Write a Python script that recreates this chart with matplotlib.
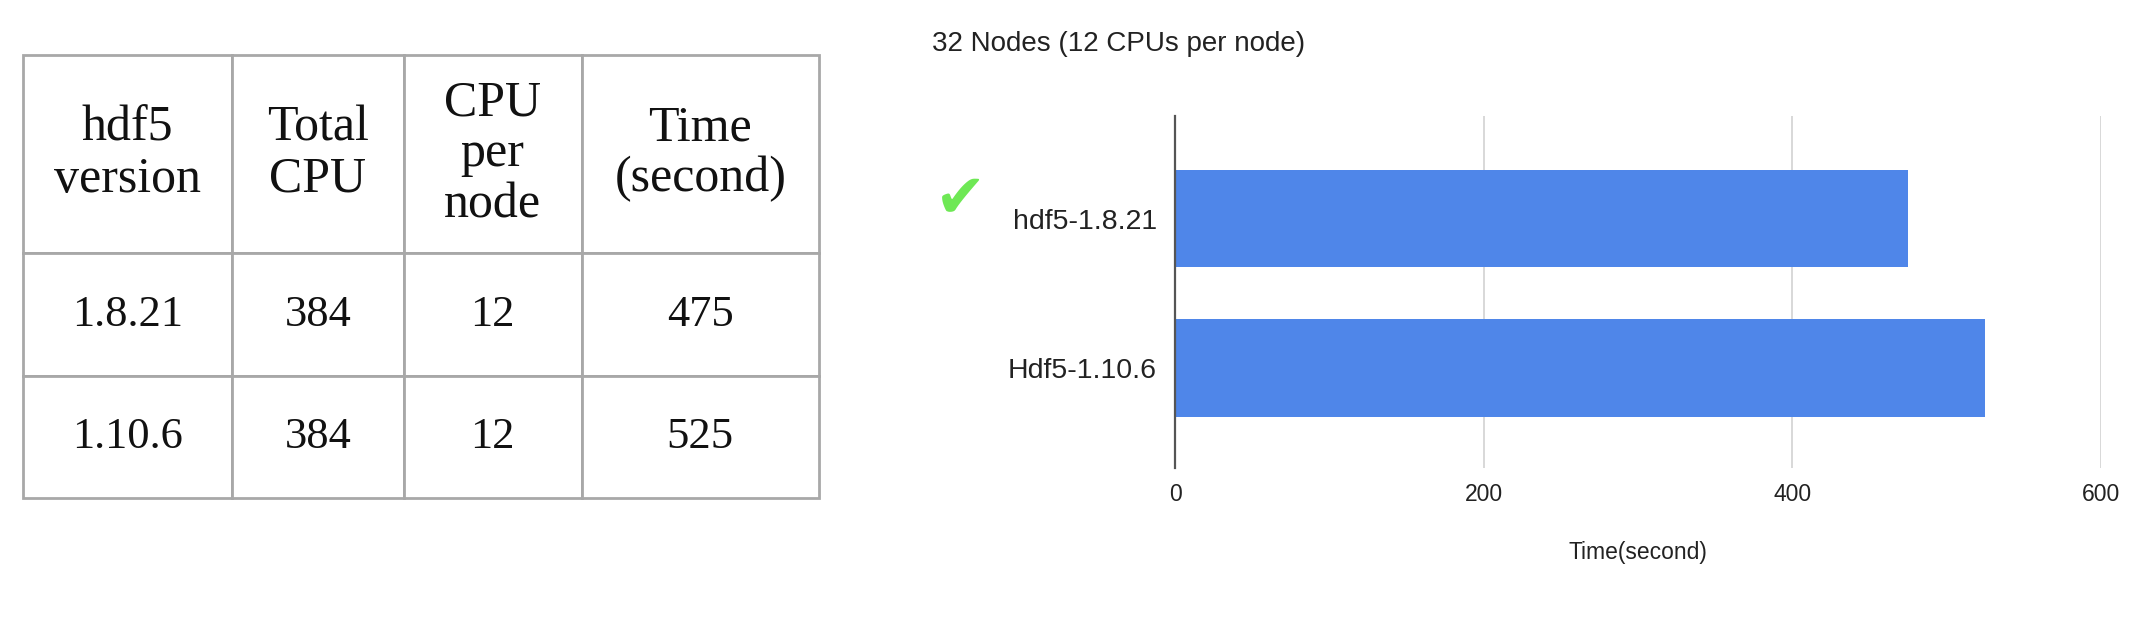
import matplotlib
matplotlib.use("Agg")
import matplotlib.pyplot as plt
import numpy as np

# Data
col_labels = ["hdf5\nversion", "Total\nCPU", "CPU\nper\nnode", "Time\n(second)"]
versions = ["1.8.21", "1.10.6"]
total_cpu = [384, 384]
cpu_per_node = [12, 12]
times = [475, 525]

bar_labels = ["hdf5-1.8.21", "Hdf5-1.10.6"]
x_ticks = [0, 200, 400, 600]

BAR_COLOR = "#4f86e9"
GRID_COLOR = "#d6d6d6"
BORDER_COLOR = "#a8a8a8"

W, H = 2136, 632
fig = plt.figure(figsize=(W / 100, H / 100), dpi=100)
fig.patch.set_facecolor("white")

# ---- Table (left) ----
tl, tr, tt, tb = 23, 819, 55, 498
tax = fig.add_axes([tl / W, 1 - tb / H, (tr - tl) / W, (tb - tt) / H])
tax.axis("off")

rows = [[v, str(c), str(n), str(t)] for v, c, n, t in zip(versions, total_cpu, cpu_per_node, times)]
col_w = np.array([209, 171.5, 178, 237.5])
col_w = col_w / col_w.sum()
row_h = [198, 123, 122]

table = tax.table(cellText=rows, colLabels=col_labels, colWidths=list(col_w),
                  cellLoc="center", loc="center", bbox=[0, 0, 1, 1])
table.auto_set_font_size(False)
for (r, c), cell in table.get_celld().items():
    cell.set_height(row_h[r] / sum(row_h))
    cell.set_edgecolor(BORDER_COLOR)
    cell.set_linewidth(2)
    txt = cell.get_text()
    txt.set_fontfamily("Liberation Serif")
    txt.set_fontsize(36 if r == 0 else 32)
    txt.set_linespacing(1.12)
    txt.set_color("#111111")

# ---- Bar chart (right) ----
ax_l, ax_r, ax_t, ax_b = 1175, 2100.7, 116, 468
ax = fig.add_axes([ax_l / W, 1 - ax_b / H, (ax_r - ax_l) / W, (ax_b - ax_t) / H])
y = np.arange(len(bar_labels))
ax.barh(y, times, height=0.65, color=BAR_COLOR, zorder=3)
ax.set_xlim(0, 600)
ax.set_xticks(x_ticks)
ax.set_yticks(y)
ax.set_yticklabels(bar_labels)
ax.set_ylim(1.669, -0.686)
ax.grid(True, axis="x", color=GRID_COLOR, linewidth=1.3, zorder=0)
ax.set_axisbelow(True)
for s in ["top", "right", "bottom"]:
    ax.spines[s].set_visible(False)
ax.spines["left"].set_color("#555555")
ax.spines["left"].set_linewidth(1.6)
ax.spines["left"].set_zorder(4)
ax.tick_params(axis="y", length=0, pad=13, labelsize=20.5, labelcolor="#222222")
ax.tick_params(axis="x", length=0, pad=11, labelsize=16.5, labelcolor="#222222")
for lab in ax.get_xticklabels() + ax.get_yticklabels():
    lab.set_fontfamily("Liberation Sans")

ax.set_xlabel("Time(second)", fontsize=16.5, family="Liberation Sans", color="#222222", va="center")
ax.xaxis.set_label_coords(0.5, -(552 - ax_b) / (ax_b - ax_t))

fig.text(932 / W, 1 - 51 / H, "32 Nodes (12 CPUs per node)", fontsize=20,
         family="Liberation Sans", color="#222222", ha="left", va="baseline")

# green check mark next to the faster version
fig.text(961 / W, 1 - 201 / H, "\u2714", fontsize=44, color="#6ee855",
         family="DejaVu Sans", ha="center", va="center")

fig.savefig("out.png", dpi=100, facecolor="white")
